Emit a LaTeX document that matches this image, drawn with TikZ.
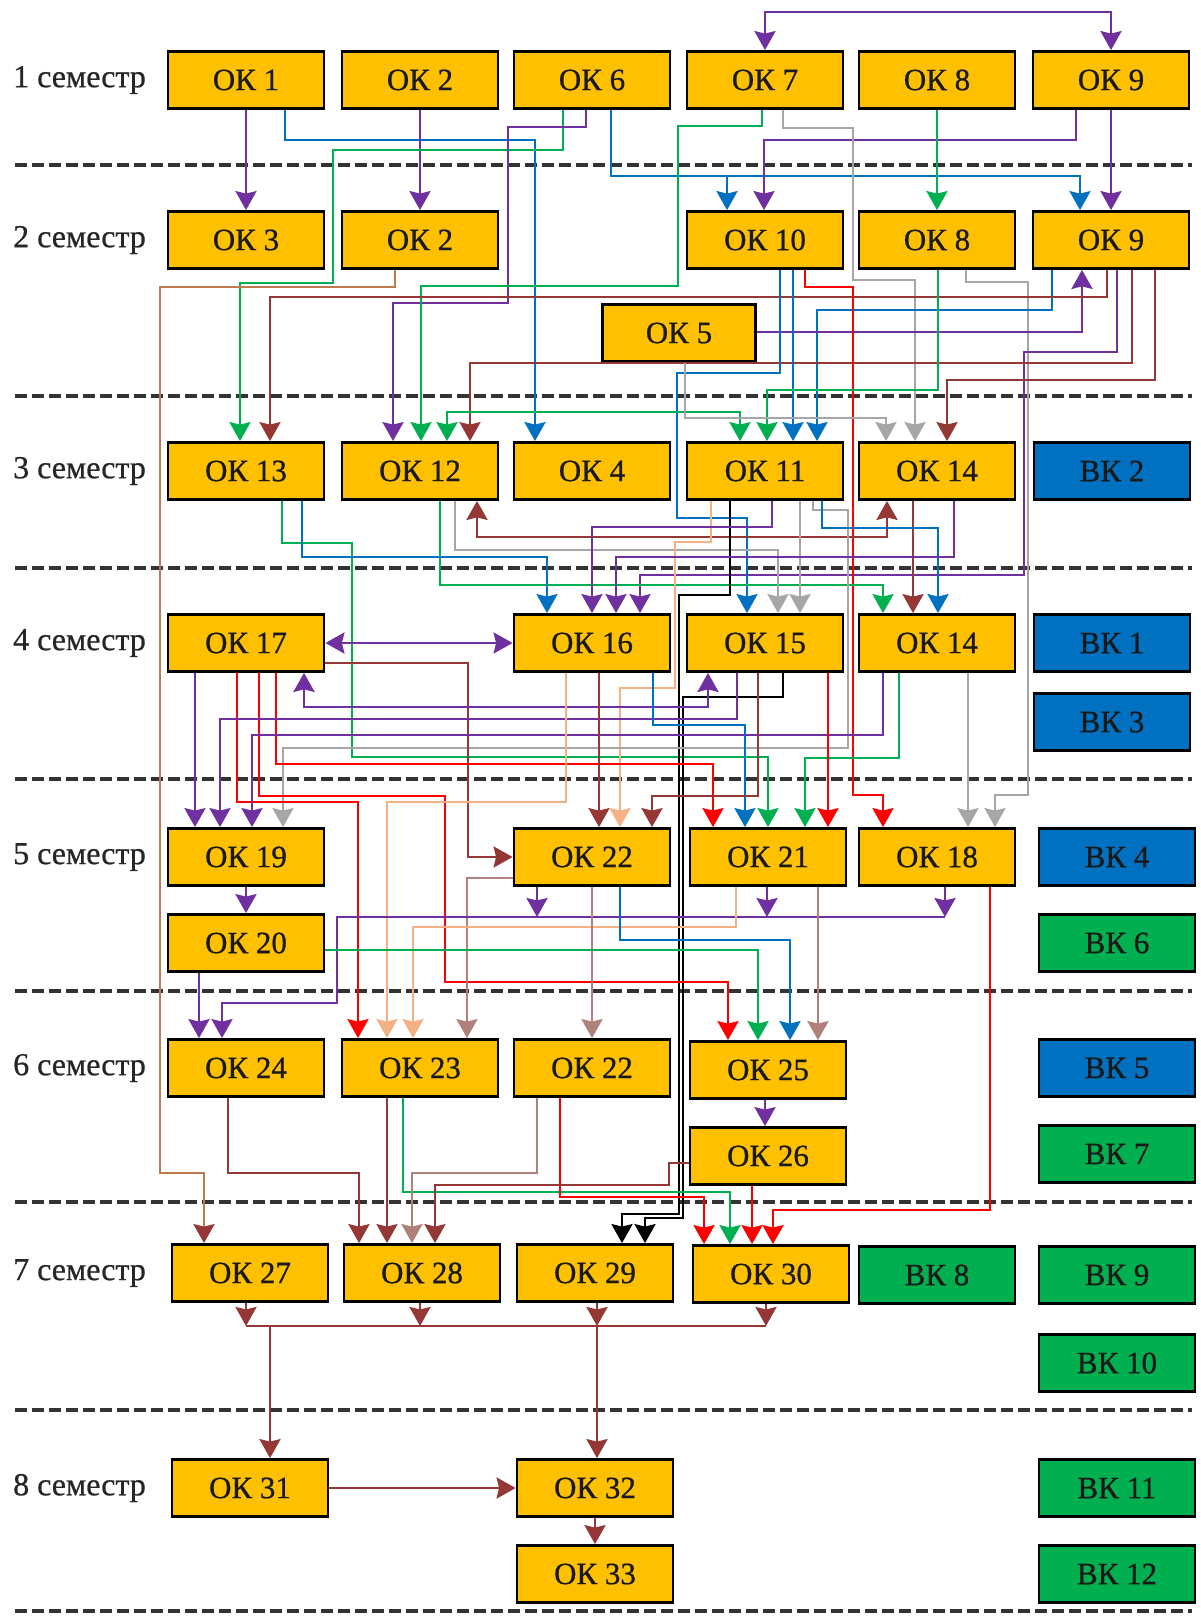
\documentclass[tikz,border=0pt]{standalone}
\usepackage{fontspec}
\setmainfont{Liberation Serif}[FakeBold=0.7]
\usetikzlibrary{arrows.meta}
\definecolor{okc}{HTML}{FFC000}
\definecolor{vkblue}{HTML}{0070C0}
\definecolor{vkgreen}{HTML}{00B050}
\definecolor{cPu}{HTML}{7030A0}
\definecolor{cBl}{HTML}{0070C0}
\definecolor{cGr}{HTML}{00B050}
\definecolor{cRd}{HTML}{FF0000}
\definecolor{cBr}{HTML}{953735}
\definecolor{cLb}{HTML}{B0807A}
\definecolor{cGy}{HTML}{A6A6A6}
\definecolor{cOr}{HTML}{F4B183}
\definecolor{cTb}{HTML}{BC7A4E}
\tikzset{
  box/.style={draw=black, line width=2.8pt, minimum width=156pt, minimum height=57pt, inner sep=0pt, text=black!90, font=\fontsize{31}{32}\selectfont},
  ok/.style={box, fill=okc},
  vkb/.style={box, fill=vkblue},
  vkg/.style={box, fill=vkgreen},
  sem/.style={anchor=west, inner sep=0pt, text=black!85, font=\fontsize{32}{34}\selectfont},
  sepline/.style={line width=3.2pt, dash pattern=on 12pt off 5pt, color=black!80},
  con/.style={line width=2.8pt},
  ar/.style={-{Stealth[width=21pt,length=19pt,inset=2.5pt]}},
  ar2/.style={{Stealth[width=21pt,length=19pt,inset=2.5pt]}-{Stealth[width=21pt,length=19pt,inset=2.5pt]}},
  arbr/.style={-{Stealth[width=21pt,length=19pt,inset=2.5pt,color=cBr]}},
  cpu/.style={con, draw=cPu, color=cPu},
  cbl/.style={con, draw=cBl, color=cBl},
  cgr/.style={con, draw=cGr, color=cGr},
  crd/.style={con, draw=cRd, color=cRd},
  cbr/.style={con, draw=cBr, color=cBr},
  clb/.style={con, draw=cLb, color=cLb},
  cgy/.style={con, draw=cGy, color=cGy},
  cor/.style={con, draw=cOr, color=cOr},
  ctb/.style={con, draw=cTb, color=cTb},
  cbk/.style={con, draw=black, color=black},
}
\begin{document}
\begin{tikzpicture}[x=1pt,y=-1pt]
\useasboundingbox (0,0) rectangle (1200,1619);
\fill[white] (0,0) rectangle (1200,1619);
% separators
\foreach \yy in {165,396,568,779,991,1202,1410,1611}
  \draw[sepline] (15,\yy) -- (1192,\yy);
% semester labels
\node[sem] (s1) at (13,80) {1 семестр};
\node[sem] (s2) at (13,240) {2 семестр};
\node[sem] (s3) at (13,471) {3 семестр};
\node[sem] (s4) at (13,643) {4 семестр};
\node[sem] (s5) at (13,857) {5 семестр};
\node[sem] (s6) at (13,1068) {6 семестр};
\node[sem] (s7) at (13,1273) {7 семестр};
\node[sem] (s8) at (13,1488) {8 семестр};
% row 1
\node[ok] (ok1) at (246,80) {ОК 1};
\node[ok] (ok2a) at (420,80) {ОК 2};
\node[ok] (ok6) at (592,80) {ОК 6};
\node[ok] (ok7) at (765,80) {ОК 7};
\node[ok] (ok8a) at (937,80) {ОК 8};
\node[ok] (ok9a) at (1111,80) {ОК 9};
% row 2
\node[ok] (ok3) at (246,240) {ОК 3};
\node[ok] (ok2b) at (420,240) {ОК 2};
\node[ok] (ok10) at (765,240) {ОК 10};
\node[ok] (ok8b) at (937,240) {ОК 8};
\node[ok] (ok9b) at (1111,240) {ОК 9};
\node[ok, minimum width=153pt] (ok5) at (679,333) {ОК 5};
% row 3
\node[ok] (ok13) at (246,471) {ОК 13};
\node[ok] (ok12) at (420,471) {ОК 12};
\node[ok] (ok4) at (592,471) {ОК 4};
\node[ok] (ok11) at (765,471) {ОК 11};
\node[ok] (ok14a) at (937,471) {ОК 14};
\node[vkb] (vk2) at (1112,471) {ВК 2};
% row 4
\node[ok] (ok17) at (246,643) {ОК 17};
\node[ok] (ok16) at (592,643) {ОК 16};
\node[ok] (ok15) at (765,643) {ОК 15};
\node[ok] (ok14b) at (937,643) {ОК 14};
\node[vkb] (vk1) at (1112,643) {ВК 1};
\node[vkb] (vk3) at (1112,722) {ВК 3};
% row 5
\node[ok] (ok19) at (246,857) {ОК 19};
\node[ok] (ok22a) at (592,857) {ОК 22};
\node[ok] (ok21) at (768,857) {ОК 21};
\node[ok] (ok18) at (937,857) {ОК 18};
\node[vkb] (vk4) at (1117,857) {ВК 4};
\node[ok] (ok20) at (246,943) {ОК 20};
\node[vkg] (vk6) at (1117,943) {ВК 6};
% row 6
\node[ok] (ok24) at (246,1068) {ОК 24};
\node[ok] (ok23) at (420,1068) {ОК 23};
\node[ok] (ok22b) at (592,1068) {ОК 22};
\node[ok] (ok25) at (768,1070) {ОК 25};
\node[vkb] (vk5) at (1117,1068) {ВК 5};
\node[ok] (ok26) at (768,1156) {ОК 26};
\node[vkg] (vk7) at (1117,1154) {ВК 7};
% row 7
\node[ok] (ok27) at (250,1273) {ОК 27};
\node[ok] (ok28) at (422,1273) {ОК 28};
\node[ok] (ok29) at (595,1273) {ОК 29};
\node[ok] (ok30) at (771,1274) {ОК 30};
\node[vkg] (vk8) at (937,1275) {ВК 8};
\node[vkg] (vk9) at (1117,1275) {ВК 9};
\node[vkg] (vk10) at (1117,1363) {ВК 10};
% row 8
\node[ok] (ok31) at (250,1488) {ОК 31};
\node[ok] (ok32) at (595,1488) {ОК 32};
\node[vkg] (vk11) at (1117,1488) {ВК 11};
\node[ok] (ok33) at (595,1574) {ОК 33};
\node[vkg] (vk12) at (1117,1574) {ВК 12};

% ===== connectors: semester 1 -> 2
\draw[cpu,ar2] (ok7.north) |- (938,12) -| (ok9a.north);
\draw[cpu,ar] (ok1) -- (ok3);
\draw[cbl,ar] (ok1.south -| 285,0) |- (535,140) -- (ok4.north -| 535,0);
\draw[cpu,ar] (ok2a) -- (ok2b);
\draw[cgr,ar] (ok6.south -| 563,0) |- (333,150) |- (240,283) -- (ok13.north -| 240,0);
\draw[cpu,ar] (ok6.south -| 586,0) |- (508,127) |- (393,303) -- (ok12.north -| 393,0);
\draw[cbl,ar] (ok6.south -| 611,0) |- (1080,176) -- (ok9b.north -| 1080,0);
\draw[cbl,ar] (ok6.south -| 611,0) |- (727,176) -- (ok10.north -| 727,0);
\draw[cpu,ar] (ok9a.south -| 1076,0) |- (764,140) -- (ok10.north -| 764,0);
\draw[cpu,ar] (ok9a) -- (ok9b);
\draw[cgr,ar] (ok8a) -- (ok8b);
\draw[cgr,ar] (ok7.south -| 762,0) |- (678,126) |- (421,286) -- (ok12.north -| 421,0);
\draw[cgy,ar] (ok7.south -| 783,0) |- (853,128) |- (915,280) -- (ok14a.north -| 915,0);

% ===== semester 2 -> 3
\draw[cgy,ar] (ok8b.south -| 966,0) |- (1028,282) |- (995,795) -- (ok18.north -| 995,0);
\draw[cpu,ar] (ok9b.south -| 1117,0) |- (1024,352) |- (640,575) -- (ok16.north -| 640,0);
\draw[cbl,ar] (ok9b.south -| 1052,0) |- (817,310) -- (ok11.north -| 817,0);
\draw[cpu,ar] (ok5.east |- 0,332) -| (ok9b.south -| 1082,0);
\draw[cbr,ar] (ok9b.south -| 1107,0) |- (270,297) -- (ok13.north -| 270,0);
\draw[ctb,arbr] (ok2b.south -| 395,0) |- (160,287) |- (204,1173) -- (ok27.north -| 204,0);
\draw[cbr,ar] (ok9b.south -| 1132,0) |- (470,363) -- (ok12.north -| 470,0);
\draw[cbr,ar] (ok9b.south -| 1155,0) |- (947,380) -- (ok14a.north -| 947,0);
\draw[crd,ar] (ok10.south -| 805,0) |- (853,287) |- (883,795) -- (ok18.north -| 883,0);
\draw[cbl,ar] (ok10.south -| 780,0) |- (677,373) |- (747,518) -- (ok15.north -| 747,0);
\draw[cbl,ar] (ok10.south -| 793,0) -- (ok11.north -| 793,0);
\draw[cgr,ar] (ok8b.south -| 938,0) |- (767,390) -- (ok11.north -| 767,0);
\draw[cgr,ar2] (ok12.north -| 447,0) |- (740,412) -- (ok11.north -| 740,0);
\draw[cgy,ar] (ok5.south -| 685,0) |- (886,418) -- (ok14a.north -| 886,0);

% ===== semester 3 -> 4
\draw[cgr,ar] (ok12.south -| 440,0) |- (883,585) -- (ok14b.north -| 883,0);
\draw[cgy,ar] (ok12.south -| 455,0) |- (778,550) -- (ok15.north -| 778,0);
\draw[cbr,ar2] (ok12.south -| 477,0) |- (887,537) -- (ok14a.south -| 887,0);
\draw[cbr,ar] (ok14a.south -| 913,0) -- (ok14b.north -| 913,0);
\draw[cgr,ar] (ok13.south -| 282,0) |- (352,543) |- (768,757) -- (ok21.north -| 768,0);
\draw[cbl,ar] (ok13.south -| 302,0) |- (547,557) -- (ok16.north -| 547,0);
\draw[cor,ar] (ok11.south -| 711,0) |- (675,542) |- (620,688) -- (ok22a.north -| 620,0);
\draw[cbk,ar] (ok11.south -| 730,0) |- (679,595) |- (622,1214) -- (ok29.north -| 622,0);
\draw[cbk,ar] (ok15.south -| 783,0) |- (683,697) |- (645,1218) -- (ok29.north -| 645,0);
\draw[cpu,ar] (ok11.south -| 772,0) |- (592,527) -- (ok16.north -| 592,0);
\draw[cgy,ar] (ok11.south -| 813,0) |- (848,510) |- (283,748) -- (ok19.north -| 283,0);
\draw[cgy,ar] (ok11.south -| 800,0) -- (ok15.north -| 800,0);
\draw[cbl,ar] (ok11.south -| 822,0) |- (938,528) -- (ok14b.north -| 938,0);
\draw[cpu,ar] (ok14a.south -| 954,0) |- (616,557) -- (ok16.north -| 616,0);

% ===== semester 4 -> 5
\draw[cpu,ar2] (ok17.east) -- (ok16.west);
\draw[cbr,ar] (ok17.east |- 0,663) -| (468,857) -- (ok22a.west);
\draw[cpu,ar] (ok17.south -| 195,0) -- (ok19.north -| 195,0);
\draw[crd,ar] (ok17.south -| 237,0) |- (358,802) -- (ok23.north -| 358,0);
\draw[crd,ar] (ok17.south -| 259,0) |- (445,796) |- (728,982) -- (ok25.north -| 728,0);
\draw[crd,ar] (ok17.south -| 276,0) |- (713,764) -- (ok21.north -| 713,0);
\draw[cpu,ar2] (ok17.south -| 304,0) |- (708,707) -- (ok15.south -| 708,0);
\draw[cpu,ar] (ok15.south -| 737,0) |- (220,719) -- (ok19.north -| 220,0);
\draw[cpu,ar] (ok14b.south -| 883,0) |- (252,735) -- (ok19.north -| 252,0);
\draw[cbl,ar] (ok16.south -| 653,0) |- (745,725) -- (ok21.north -| 745,0);
\draw[cgr,ar] (ok14b.south -| 899,0) |- (805,758) -- (ok21.north -| 805,0);
\draw[crd,ar] (ok15.south -| 828,0) -- (ok21.north -| 828,0);
\draw[cgy,ar] (ok14b.south -| 968,0) -- (ok18.north -| 968,0);
\draw[cbr,ar] (ok16.south -| 599,0) -- (ok22a.north -| 599,0);
\draw[cor,ar] (ok16.south -| 566,0) |- (387,802) -- (ok23.north -| 387,0);
\draw[cbr,ar] (ok15.south -| 758,0) |- (652,796) -- (ok22a.north -| 652,0);

% ===== semester 5 -> 6
\draw[clb,ar] (ok22a.west |- 0,878) -| (ok23.north -| 467,0);
\coordinate (busA) at (945,917);
\coordinate (busB) at (767,917);
\coordinate (busC) at (537,917);
\draw[cpu,ar] (ok18.south -| busA) -- (busA);
\draw[cpu,ar] (ok21.south -| busB) -- (busB);
\draw[cpu,ar] (ok22a.south -| busC) -- (busC);
\draw[cpu,ar] (busA) -| (337,1003) -| (ok24.north -| 222,0);
\draw[cpu,ar] (ok19) -- (ok20);
\draw[cpu,ar] (ok20.south -| 199,0) -- (ok24.north -| 199,0);
\draw[cor,ar] (ok21.south -| 736,0) |- (413,927) -- (ok23.north -| 413,0);
\draw[cbl,ar] (ok22a.south -| 620,0) |- (790,940) -- (ok25.north -| 790,0);
\draw[clb,ar] (ok22a.south -| 592,0) -- (ok22b.north -| 592,0);
\draw[cgr,ar] (ok20.east |- 0,950) -| (ok25.north -| 758,0);
\draw[clb,ar] (ok21.south -| 818,0) -- (ok25.north -| 818,0);
\draw[crd,ar] (ok18.south -| 990,0) |- (773,1210) -- (ok30.north -| 773,0);

% ===== semester 6 -> 7
\draw[cpu,ar] (ok25.south -| 765,0) -- (ok26.north -| 765,0);
\draw[cbr,ar] (ok24.south -| 228,0) |- (359,1173) -- (ok28.north -| 359,0);
\draw[cbr,ar] (ok23.south -| 387,0) -- (ok28.north -| 387,0);
\draw[cgr,ar] (ok23.south -| 403,0) |- (730,1192) -- (ok30.north -| 730,0);
\draw[clb,ar] (ok22b.south -| 537,0) |- (412,1173) -- (ok28.north -| 412,0);
\draw[crd,ar] (ok22b.south -| 560,0) |- (704,1197) -- (ok30.north -| 704,0);
\draw[cbr,ar] (ok26.west |- 0,1163) -| (669,1185) -| (ok28.north -| 435,0);
\draw[crd,ar] (ok26.south -| 752,0) -- (ok30.north -| 752,0);

% ===== semester 7 -> 8
\coordinate (b7a) at (246,1326);
\coordinate (b7b) at (420,1326);
\coordinate (b7c) at (597,1326);
\coordinate (b7d) at (766,1326);
\coordinate (b7e) at (270,1326);
\draw[cbr] (b7a) -- (b7d);
\draw[cbr,ar] (ok27.south -| b7a) -- (b7a);
\draw[cbr,ar] (ok28.south -| b7b) -- (b7b);
\draw[cbr,ar] (ok29.south -| b7c) -- (b7c);
\draw[cbr,ar] (ok30.south -| b7d) -- (b7d);
\draw[cbr,ar] (b7e) -- (ok31.north -| b7e);
\draw[cbr,ar] (b7c) -- (ok32.north -| b7c);
\draw[cbr,ar] (ok31) -- (ok32);
\draw[cbr,ar] (ok32) -- (ok33);
\end{tikzpicture}
\end{document}
